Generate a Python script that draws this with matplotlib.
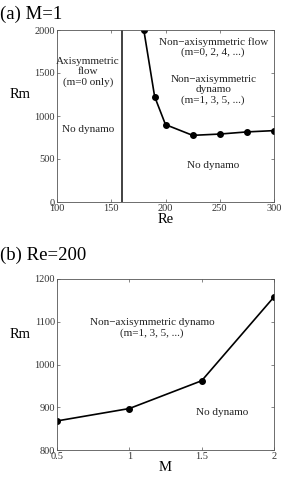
import matplotlib
matplotlib.use('Agg')
import matplotlib.pyplot as plt

# panel (a): M=1
re_vals = [180, 190, 200, 225, 250, 275, 300]
rm_a = [2000, 1225, 900, 775, 790, 815, 830]
re_boundary = 160

# panel (b): Re=200
m_vals = [0.5, 1, 1.5, 2]
rm_b = [868, 897, 962, 1158]

plt.rcParams['font.family'] = ['Liberation Serif', 'DejaVu Serif']

fig = plt.figure(figsize=(2.88, 4.84), dpi=100)
ax1 = fig.add_axes([57 / 288, 1 - 202 / 484, 217 / 288, 172 / 484])
ax2 = fig.add_axes([57 / 288, 1 - 450 / 484, 217 / 288, 171 / 484])

for ax in (ax1, ax2):
    for s in ax.spines.values():
        s.set_linewidth(0.6)
        s.set_color('#555555')
    ax.tick_params(direction='in', length=2, width=0.5, labelsize=7.5,
                   pad=1.5, colors='#555555', labelcolor='#333333',
                   top=True, right=True)

# (a)
ax1.plot(re_vals, rm_a, '-o', color='black', lw=1.2, ms=4)
ax1.axvline(re_boundary, color='#333333', lw=1.3)
ax1.set_xlim(100, 300)
ax1.set_ylim(0, 2000)
ax1.set_xticks([100, 150, 200, 250, 300])
ax1.set_yticks([0, 500, 1000, 1500, 2000])
ax1.set_xlabel('Re', fontsize=10.5, labelpad=0)
ax1.set_ylabel('Rm', fontsize=10.5, rotation=0)
ax1.yaxis.set_label_coords(-0.17, 0.59)
kw = dict(fontsize=8, ha='center', va='center', color='#222222', linespacing=1.15)
ax1.text(128.5, 1510, 'Axisymmetric\nflow\n(m=0 only)', **kw)
ax1.text(128.5, 840, 'No dynamo', **kw)
ax1.text(244, 1800, 'Non\u2212axisymmetric flow\n(m=0, 2, 4, ...)', **kw)
ax1.text(244, 1300, 'Non\u2212axisymmetric\ndynamo\n(m=1, 3, 5, ...)', **kw)
ax1.text(244, 420, 'No dynamo', **kw)
fig.text(0.0, 1 - 14 / 484, '(a) M=1', fontsize=13.5, va='center', ha='left')

# (b)
ax2.plot(m_vals, rm_b, '-o', color='black', lw=1.2, ms=4)
ax2.set_xlim(0.5, 2)
ax2.set_ylim(800, 1200)
ax2.set_xticks([0.5, 1, 1.5, 2])
ax2.set_xticklabels(['0.5', '1', '1.5', '2'])
ax2.set_yticks([800, 900, 1000, 1100, 1200])
ax2.set_xlabel('M', fontsize=10.5, labelpad=0)
ax2.set_ylabel('Rm', fontsize=10.5, rotation=0)
ax2.yaxis.set_label_coords(-0.17, 0.64)
ax2.text(1.157, 1085, 'Non\u2212axisymmetric dynamo\n(m=1, 3, 5, ...)', **kw)
ax2.text(1.64, 887, 'No dynamo', **kw)
fig.text(0.0, 1 - 255 / 484, '(b) Re=200', fontsize=13.5, va='center', ha='left')

plt.savefig('out.png', dpi=100)
plt.close()
